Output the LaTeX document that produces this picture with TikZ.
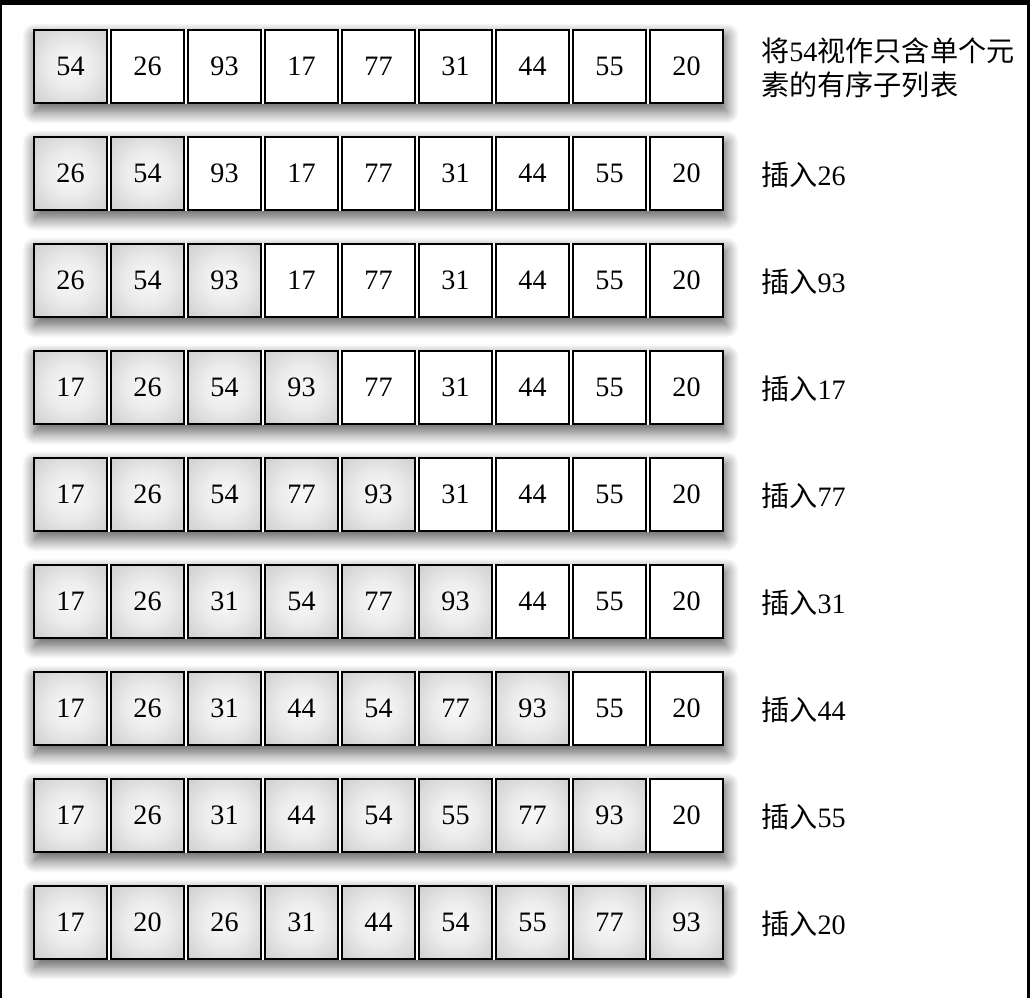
\documentclass[tikz,border=0pt]{standalone}
\usepackage{fontspec}
\setmainfont{Liberation Serif}
\newfontfamily\cjk{Noto Sans CJK SC}
\usetikzlibrary{shadows.blur}
\pgfdeclarelayer{bg}
\pgfsetlayers{bg,main}
\pgfdeclareradialshading{cellglow}{\pgfpoint{0bp}{0bp}}{color(0bp)=(gray!5); color(15bp)=(gray!15); color(50bp)=(gray!55); color(72bp)=(gray!65)}
\newcommand{\zh}[1]{{\cjk #1}}
\tikzset{
    every node/.style={font=\fontsize{20}{24}\selectfont},
    cell/.style={draw, line width=1.8pt, minimum size=1.83cm, inner sep=0pt},
    open/.style={fill=white},
    sorted/.style={shading=cellglow},
    note/.style={anchor=west, align=left, inner sep=0pt}
}

\begin{document}
\begin{tikzpicture}[x=0.025cm, y=-0.025cm]
	\useasboundingbox (0,0) rectangle (1030,998);
	% edges of the scan
	\fill[black] (0,0) rectangle (1030,5);
	\fill[black] (0,0) rectangle (2,998);
	\fill[black] (1027,0) rectangle (1030,998);

	\foreach \vals/\txt [count=\r] in {
		{54,26,93,17,77,31,44,55,20}/{\zh{将}54\zh{视作只含单个元}\\\zh{素的有序子列表}},
		{26,54,93,17,77,31,44,55,20}/{\zh{插入}26},
		{26,54,93,17,77,31,44,55,20}/{\zh{插入}93},
		{17,26,54,93,77,31,44,55,20}/{\zh{插入}17},
		{17,26,54,77,93,31,44,55,20}/{\zh{插入}77},
		{17,26,31,54,77,93,44,55,20}/{\zh{插入}31},
		{17,26,31,44,54,77,93,55,20}/{\zh{插入}44},
		{17,26,31,44,54,55,77,93,20}/{\zh{插入}55},
		{17,20,26,31,44,54,55,77,93}/{\zh{插入}20}
	}{
		\foreach \v [count=\c] in \vals {
			\ifnum\c>\r \def\look{open}\else\def\look{sorted}\fi
			\node (b\r-\c) [cell, \look] at ({70.5+77*(\c-1)}, {66.5+107*(\r-1)}) {\v};
		}
		\begin{pgfonlayer}{bg}
			\path[fill=white, blur shadow={shadow xshift=1.5pt, shadow yshift=-5pt,
				shadow blur radius=9pt, shadow blur steps=15, shadow opacity=65}]
				(b\r-1.north west) rectangle (b\r-9.south east);
		\end{pgfonlayer}
		\node (t\r) [note] at (761, {68+107*(\r-1)}) {\txt};
	}
\end{tikzpicture}
\end{document}
